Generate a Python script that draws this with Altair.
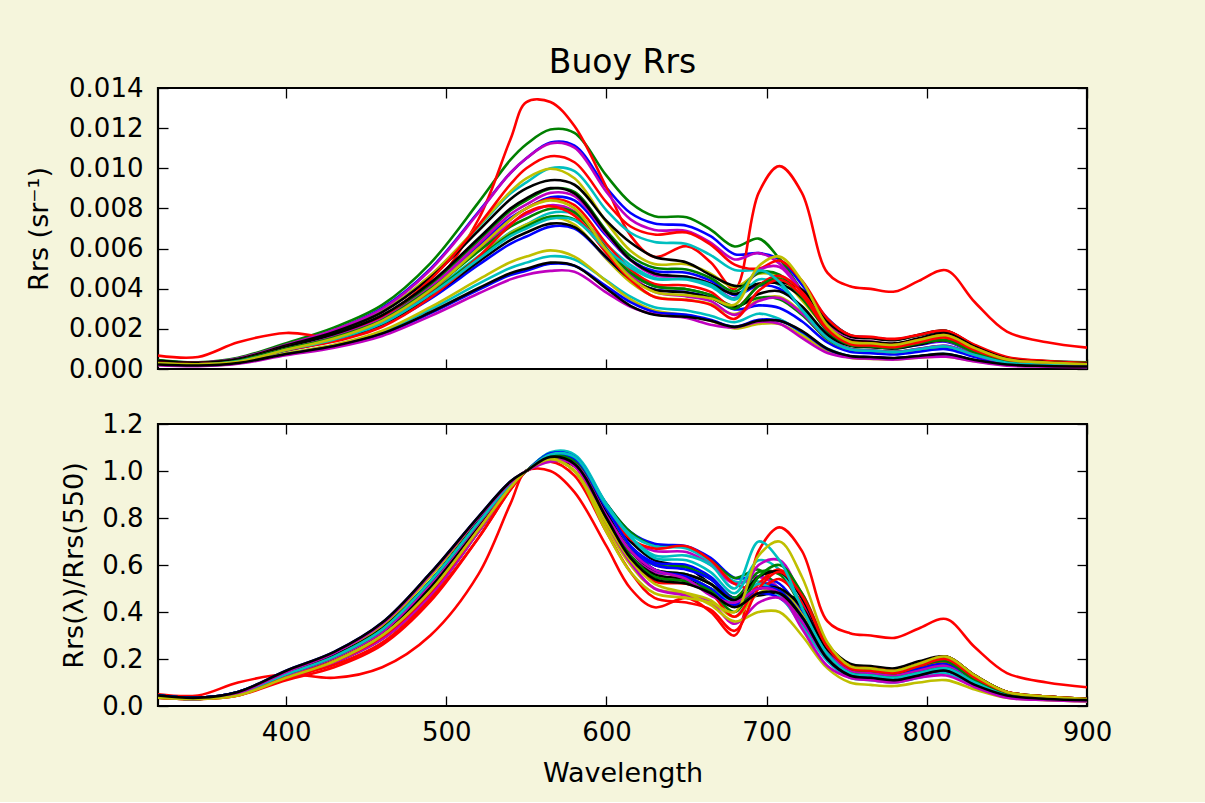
import altair as alt
import pandas as pd

# ---------------- data ----------------
wavelengths = [320, 345, 370, 400, 430, 460, 490, 520, 540, 550, 565, 580, 600, 615, 630,
               650, 665, 680, 695, 708, 722, 738, 752, 765, 780, 795, 812, 830, 850, 875, 900]

# Rrs(550) of every station, sr^-1
rrs550 = [0.0105, 0.0112, 0.0133, 0.0093, 0.0105, 0.0095, 0.0090,
          0.0080, 0.0084, 0.0100, 0.0072, 0.0082, 0.0072, 0.0085,
          0.0066, 0.0071, 0.0080, 0.0053, 0.0077, 0.0056, 0.0068,
          0.0049, 0.0075, 0.0078, 0.0070, 0.0047, 0.0080, 0.0050]

# Rrs(lambda)/Rrs(550) of every station (lower panel)
norm_spectra = [
    [.040, .030, .050, .115, .185, .290, .475, .745, .930, 1.0, 1.075, 1.060, .860, .740, .690, .680, .630, .545, .550, .520, .400, .240, .160, .150, .140, .160, .180, .110, .050, .035, .030],
    [.040, .030, .050, .115, .185, .285, .470, .740, .930, 1.0, 1.065, 1.050, .860, .740, .680, .675, .620, .545, .580, .490, .350, .220, .150, .140, .130, .150, .170, .100, .050, .035, .030],
    [.050, .045, .100, .135, .120, .165, .300, .560, .860, 1.0, 1.000, .910, .680, .500, .420, .460, .400, .300, .660, .760, .660, .360, .310, .300, .290, .330, .370, .250, .140, .100, .080],
    [.040, .030, .055, .125, .200, .310, .500, .760, .940, 1.0, 1.075, 1.060, .850, .730, .680, .670, .610, .530, .530, .500, .380, .220, .140, .130, .120, .140, .160, .100, .045, .030, .025],
    [.035, .030, .050, .115, .185, .285, .470, .740, .930, 1.0, 1.070, 1.050, .840, .710, .660, .655, .600, .520, .550, .500, .370, .210, .140, .130, .120, .140, .160, .100, .045, .030, .025],
    [.035, .030, .050, .120, .190, .300, .490, .750, .930, 1.0, 1.050, 1.000, .770, .620, .550, .550, .500, .430, .500, .480, .360, .210, .140, .130, .120, .140, .160, .100, .045, .030, .025],
    [.045, .035, .055, .130, .205, .315, .505, .765, .940, 1.0, 1.045, 1.020, .820, .700, .620, .590, .520, .460, .470, .480, .440, .260, .180, .170, .160, .190, .210, .130, .060, .040, .030],
    [.045, .035, .055, .130, .205, .315, .505, .765, .940, 1.0, 1.070, 1.050, .830, .680, .610, .600, .550, .460, .520, .500, .380, .220, .150, .140, .130, .150, .170, .100, .050, .035, .030],
    [.040, .030, .055, .125, .200, .310, .500, .760, .940, 1.0, 1.070, 1.050, .820, .670, .600, .590, .540, .460, .570, .560, .420, .240, .160, .150, .140, .170, .190, .110, .050, .035, .030],
    [.035, .030, .045, .110, .165, .260, .445, .715, .920, 1.0, 1.060, 1.030, .830, .710, .670, .680, .620, .520, .500, .540, .440, .250, .170, .160, .150, .170, .190, .120, .060, .040, .030],
    [.040, .030, .055, .135, .210, .325, .530, .780, .945, 1.0, 1.080, 1.070, .860, .720, .630, .620, .570, .480, .620, .580, .420, .220, .140, .130, .120, .140, .160, .100, .045, .030, .025],
    [.040, .030, .050, .125, .200, .305, .495, .760, .940, 1.0, 1.070, 1.050, .820, .660, .570, .560, .520, .430, .600, .620, .460, .240, .150, .140, .130, .150, .170, .100, .050, .035, .030],
    [.035, .030, .045, .125, .200, .310, .510, .770, .940, 1.0, 1.050, 1.000, .760, .600, .500, .480, .450, .380, .480, .500, .390, .200, .130, .120, .110, .130, .150, .090, .040, .030, .020],
    [.045, .035, .055, .130, .205, .315, .505, .765, .940, 1.0, 1.060, 1.030, .800, .640, .560, .540, .500, .440, .500, .500, .420, .240, .170, .160, .150, .180, .210, .130, .060, .040, .030],
    [.045, .035, .060, .140, .215, .330, .530, .785, .945, 1.0, 1.075, 1.060, .840, .680, .600, .580, .540, .450, .480, .460, .360, .200, .130, .120, .110, .130, .150, .090, .040, .030, .025],
    [.040, .030, .055, .135, .210, .325, .530, .780, .945, 1.0, 1.070, 1.050, .830, .670, .580, .560, .520, .440, .500, .490, .380, .210, .140, .130, .120, .140, .160, .100, .045, .030, .025],
    [.040, .030, .050, .125, .190, .295, .485, .750, .930, 1.0, 1.060, 1.020, .780, .620, .530, .520, .480, .380, .520, .580, .480, .260, .170, .160, .150, .180, .210, .130, .060, .040, .030],
    [.045, .035, .060, .145, .225, .350, .560, .800, .950, 1.0, 1.060, 1.030, .830, .680, .580, .550, .500, .440, .520, .470, .340, .190, .120, .110, .100, .120, .140, .080, .040, .030, .020],
    [.035, .030, .050, .130, .205, .315, .520, .775, .940, 1.0, 1.060, 1.020, .780, .610, .500, .470, .440, .350, .440, .460, .360, .200, .130, .120, .110, .130, .150, .090, .040, .030, .020],
    [.035, .030, .050, .140, .215, .340, .550, .795, .950, 1.0, 1.055, 1.000, .780, .620, .520, .480, .430, .360, .400, .400, .300, .160, .100, .090, .085, .100, .110, .070, .035, .025, .020],
    [.045, .035, .060, .140, .215, .330, .530, .785, .945, 1.0, 1.065, 1.040, .820, .660, .580, .560, .520, .450, .550, .570, .460, .250, .170, .160, .150, .180, .210, .130, .060, .040, .030],
    [.045, .035, .060, .150, .230, .355, .565, .805, .955, 1.0, 1.070, 1.050, .840, .680, .580, .550, .500, .430, .500, .490, .380, .200, .130, .120, .110, .130, .150, .090, .045, .030, .025],
    [.040, .030, .055, .135, .210, .325, .530, .780, .945, 1.0, 1.065, 1.040, .800, .640, .550, .530, .490, .400, .550, .600, .480, .250, .160, .150, .140, .170, .190, .110, .050, .035, .030],
    [.035, .030, .045, .120, .175, .270, .455, .715, .920, 1.0, 1.040, .980, .740, .570, .460, .440, .410, .320, .500, .570, .470, .250, .160, .150, .140, .170, .200, .120, .060, .040, .030],
    [.040, .030, .055, .135, .210, .325, .530, .780, .945, 1.0, 1.070, 1.060, .850, .720, .640, .640, .600, .500, .700, .620, .420, .220, .140, .130, .120, .140, .160, .100, .045, .030, .025],
    [.040, .030, .055, .145, .225, .350, .560, .800, .950, 1.0, 1.040, 1.030, .810, .660, .580, .540, .470, .440, .500, .480, .330, .170, .120, .110, .100, .120, .130, .080, .035, .025, .020],
    [.035, .030, .045, .120, .190, .300, .490, .750, .930, 1.0, 1.050, 1.000, .740, .570, .480, .460, .440, .400, .640, .700, .550, .270, .170, .160, .150, .180, .210, .130, .060, .040, .030],
    [.045, .035, .060, .150, .230, .355, .565, .805, .955, 1.0, 1.060, 1.030, .800, .630, .540, .520, .480, .420, .480, .480, .380, .200, .130, .120, .110, .130, .150, .090, .045, .030, .025],
]

# matplotlib "classic" colour cycle: b, g, r, c, m, y, k
cycle_colors = ["#0000ff", "#008000", "#ff0000", "#00bfbf", "#bf00bf", "#bfbf00", "#000000"]

x_ticks = [400, 500, 600, 700, 800, 900]
y_ticks_top = [0.0, 0.002, 0.004, 0.006, 0.008, 0.010, 0.012, 0.014]
y_ticks_bottom = [0.0, 0.2, 0.4, 0.6, 0.8, 1.0, 1.2]

# ---------------- table ----------------
rows = []
ids = []
for i, (r550, spec) in enumerate(zip(rrs550, norm_spectra)):
    sid = f"S{i:02d}"
    ids.append(sid)
    for wl, v in zip(wavelengths, spec):
        rows.append({"series": sid, "wl": wl, "norm": v, "rrs": v * r550})
df = pd.DataFrame(rows)
colors = [cycle_colors[i % len(cycle_colors)] for i in range(len(ids))]

FONT = "DejaVu Sans"
TICK = 10
W, H1, H2 = 929, 281, 282
BG = "#f5f5dc"


def axis(orient, labels, values, fmt=None, title=None, lp=15, tp=15):
    kw = dict(orient=orient, labels=labels, values=values, grid=False, domain=False,
              ticks=True, tickSize=TICK, offset=-TICK, tickColor="black", tickWidth=1.3,
              labelFont=FONT, labelFontSize=26, labelColor="black", labelPadding=lp,
              labelFlush=False, labelOverlap=False,
              title=title, titleFont=FONT, titleFontSize=27, titleFontWeight="normal",
              titleColor="black", titlePadding=tp)
    if fmt:
        kw["format"] = fmt
    return alt.Axis(**kw)


xscale = alt.Scale(domain=[320, 900], nice=False, zero=False)
color = alt.Color("series:N", scale=alt.Scale(domain=ids, range=colors), legend=None)


def panel(field, ydomain, yticks, fmt, ytitle, xlabels, xtitle, h, tp_y, title=None):
    yscale = alt.Scale(domain=ydomain, nice=False, zero=False)
    base = alt.Chart(df)
    lines = base.mark_line(strokeWidth=2.6, interpolate="catmull-rom", clip=True).encode(
        x=alt.X("wl:Q", scale=xscale,
                axis=axis("bottom", xlabels, x_ticks, "d", xtitle, lp=13, tp=15)),
        y=alt.Y(f"{field}:Q", scale=yscale,
                axis=axis("left", True, yticks, fmt, ytitle, lp=15, tp=tp_y)),
        color=color,
    )
    ghost = base.mark_line(strokeOpacity=0).encode(
        x=alt.X("wl:Q", scale=xscale, axis=axis("top", False, x_ticks)),
        y=alt.Y(f"{field}:Q", scale=yscale, axis=axis("right", False, yticks)),
        detail="series:N",
    )
    props = dict(width=W, height=h)
    if title is not None:
        props["title"] = title
    return alt.layer(lines, ghost).resolve_axis(x="independent", y="independent").properties(**props)


title = alt.Title("Buoy Rrs", font=FONT, fontSize=33, fontWeight="normal", color="black",
                  anchor="middle", frame="group", baseline="alphabetic", offset=-31)

top = panel("rrs", [0, 0.014], y_ticks_top, ".3f", "Rrs (sr\u207b\u00b9)", False, None, H1, 15, title)
bottom = panel("norm", [0, 1.2], y_ticks_bottom, ".1f", "Rrs(\u03bb)/Rrs(550)", True, "Wavelength", H2, 13)

chart = alt.vconcat(top, bottom, spacing=55, bounds="flush").properties(
    padding={"left": 24, "top": 45, "right": 92, "bottom": 14},
    background=BG,
).configure_view(stroke="black", strokeWidth=2.2, fill="white")

chart.save("out.html", embed_options={"renderer": "svg", "actions": False})
